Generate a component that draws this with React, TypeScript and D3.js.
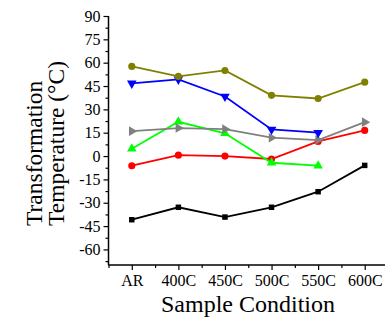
import { useEffect, useRef } from 'react';
import * as d3 from 'd3';

const conditions = ['AR', '400C', '450C', '500C', '550C', '600C'];
const yTicks = [90, 75, 60, 45, 30, 15, 0, -15, -30, -45, -60];

// one array per curve, null where the curve stops
const olive = [57.6, 51.2, 55, 39, 37, 47.5];
const blue = [46.7, 49.3, 38.3, 17.1, 15, null];
const gray = [16, 18, 17.3, 11.8, 10.3, 21.8];
const green = [4.7, 22, 14.6, -4.3, -6.2, null];
const red = [-6.2, 0.6, 0, -1.9, 9.4, 16.5];
const black = [-40.9, -32.9, -39.2, -32.9, -22.9, -6];

const series = [
  { values: black, color: '#000000', symbol: d3.symbolSquare, size: 30, rotate: 0 },
  { values: red, color: '#ff0000', symbol: d3.symbolCircle, size: 40, rotate: 0 },
  { values: green, color: '#00ff00', symbol: d3.symbolTriangle, size: 40, rotate: 0 },
  { values: gray, color: '#808080', symbol: d3.symbolTriangle, size: 40, rotate: 90 },
  { values: blue, color: '#0000ff', symbol: d3.symbolTriangle, size: 40, rotate: 180 },
  { values: olive, color: '#808000', symbol: d3.symbolCircle, size: 40, rotate: 0 },
];

export default function App() {
  const svgRef = useRef<SVGSVGElement | null>(null);

  useEffect(() => {
    if (!svgRef.current) return;
    const svg = d3.select(svgRef.current);
    svg.selectAll('*').remove();

    const x = d3.scaleLinear().domain([-0.5, 5.5]).range([108.5, 388]);
    const y = d3.scaleLinear().domain([-70, 90]).range([265, 16]);
    const font = '"Liberation Serif", "Times New Roman", serif';

    const g = svg.append('g').attr('font-family', font);

    const styleAxis = (sel: d3.Selection<SVGGElement, unknown, null, undefined>) => {
      sel.select('.domain').remove();
      sel.attr('font-family', font).attr('font-size', 16);
      sel.selectAll('text').style('font-family', font).attr('font-size', '16px').attr('fill', '#000');
      sel.selectAll('line').attr('stroke', '#000').attr('stroke-width', 1.2);
    };

    // y axis: minor then major ticks
    g.append('g')
      .attr('transform', `translate(${x(-0.5)},0)`)
      .call(d3.axisLeft(y).tickValues(d3.range(-67.5, 90, 15)).tickSize(3).tickFormat(() => ''))
      .call(styleAxis);
    g.append('g')
      .attr('transform', `translate(${x(-0.5)},0)`)
      .call(d3.axisLeft(y).tickValues(yTicks).tickSize(5).tickPadding(3).tickFormat((d) => `${d}`))
      .call(styleAxis);
    g.append('line')
      .attr('x1', x(-0.5)).attr('x2', x(-0.5))
      .attr('y1', y(90)).attr('y2', y(-70))
      .attr('stroke', '#000').attr('stroke-width', 1.5);

    // x axis
    g.append('g')
      .attr('transform', `translate(0,${y(-70)})`)
      .call(d3.axisBottom(x).tickValues(d3.range(-0.5, 5.6, 1)).tickSize(3).tickFormat(() => ''))
      .call(styleAxis);
    g.append('g')
      .attr('transform', `translate(0,${y(-70)})`)
      .call(
        d3.axisBottom(x).tickValues(d3.range(0, 6)).tickSize(5).tickPadding(5)
          .tickFormat((d) => conditions[d as number])
      )
      .call(styleAxis);
    g.append('line')
      .attr('x1', x(-0.5)).attr('x2', x(5.5))
      .attr('y1', y(-70)).attr('y2', y(-70))
      .attr('stroke', '#000').attr('stroke-width', 1.5);

    // curves
    series.forEach((s) => {
      const pts = s.values
        .map((v, i) => ({ i, v }))
        .filter((p) => p.v !== null) as { i: number; v: number }[];
      const line = d3.line<{ i: number; v: number }>().x((p) => x(p.i)).y((p) => y(p.v));
      g.append('path')
        .attr('d', line(pts))
        .attr('fill', 'none')
        .attr('stroke', s.color)
        .attr('stroke-width', 1.8);
      g.selectAll(null)
        .data(pts)
        .join('path')
        .attr('d', d3.symbol().type(s.symbol).size(s.size)())
        .attr('transform', (p) => `translate(${x(p.i)},${y(p.v)}) rotate(${s.rotate})`)
        .attr('fill', s.color);
    });

    // axis titles
    g.append('text')
      .attr('x', 248)
      .attr('y', 312)
      .attr('text-anchor', 'middle')
      .style('font-family', font)
      .attr('font-size', '24px')
      .text('Sample Condition');

    const ty = g.append('text')
      .attr('transform', 'translate(0,226) rotate(-90)')
      .style('font-family', font)
      .attr('font-size', '23.5px');
    ty.append('tspan').attr('x', 0).attr('y', 42).text('Transformation');
    ty.append('tspan').attr('x', 0).attr('y', 64).text('Temperature (°C)');
  }, []);

  return (
    <div style={{ position: 'fixed', left: 0, top: 0 }}>
      <svg ref={svgRef} width={385} height={321} style={{ display: 'block', background: '#fff' }} />
    </div>
  );
}
